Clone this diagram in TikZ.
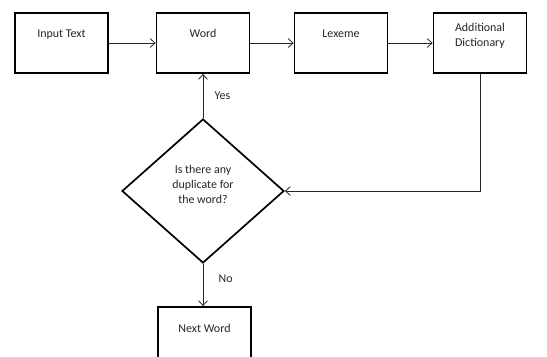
\documentclass[tikz,border=0pt]{standalone}
\usepackage{fontspec}
\setmainfont{Carlito}
\usetikzlibrary{shapes.geometric, arrows.meta}

\begin{document}
\begin{tikzpicture}[x=1bp, y=1bp,
  every node/.style={align=center, font=\fontsize{12}{15}\selectfont, text=black!85},
  stepbox/.style={draw=black, line width=1.7bp, rectangle, minimum width=93bp, minimum height=60bp, inner sep=0pt},
  boxtext/.style={anchor=north, inner sep=0pt, yshift=-17bp},
  flow/.style={draw=black!85, line width=0.8bp, -{Straight Barb[length=5bp, width=9bp]}}]
  \useasboundingbox (0,0) rectangle (547,356);

  % Top row
  \node[stepbox, label={[boxtext]north:Input Text}] (input) at (61.5, 313) {};
  \node[stepbox, label={[boxtext]north:Word}] (word) at (203, 313) {};
  \node[stepbox, label={[boxtext]north:Lexeme}] (lexeme) at (341, 313) {};
  \node[stepbox, label={[boxtext, yshift=6bp]north:Additional\\Dictionary}] (dict) at (480, 313) {};

  % Decision
  \node[draw=black, line width=1.7bp, diamond, minimum width=162bp, minimum height=144bp, inner sep=0pt,
    label={[anchor=center, inner sep=0pt, yshift=7bp]center:Is there any\\duplicate for\\the word?}] (check) at (203, 165) {};

  % Bottom
  \node[stepbox, label={[boxtext, yshift=-1bp]north:Next Word}] (next) at (204.5, 19) {};

  \coordinate (turn) at (dict.south |- check.east);
  \coordinate (nexttop) at (check.south |- next.north);

  \draw[flow] (input) -- (word);
  \draw[flow] (word) -- (lexeme);
  \draw[flow] (lexeme) -- (dict);
  \draw[flow] (dict.south) -- (turn) -- (check.east);
  \draw[flow] (check.north) -- node[right=8bp, pos=0.5] (yes) {Yes} (word.south);
  \draw[flow] (check.south) -- node[right=12bp, pos=0.35] (no) {No} (nexttop);
\end{tikzpicture}
\end{document}
